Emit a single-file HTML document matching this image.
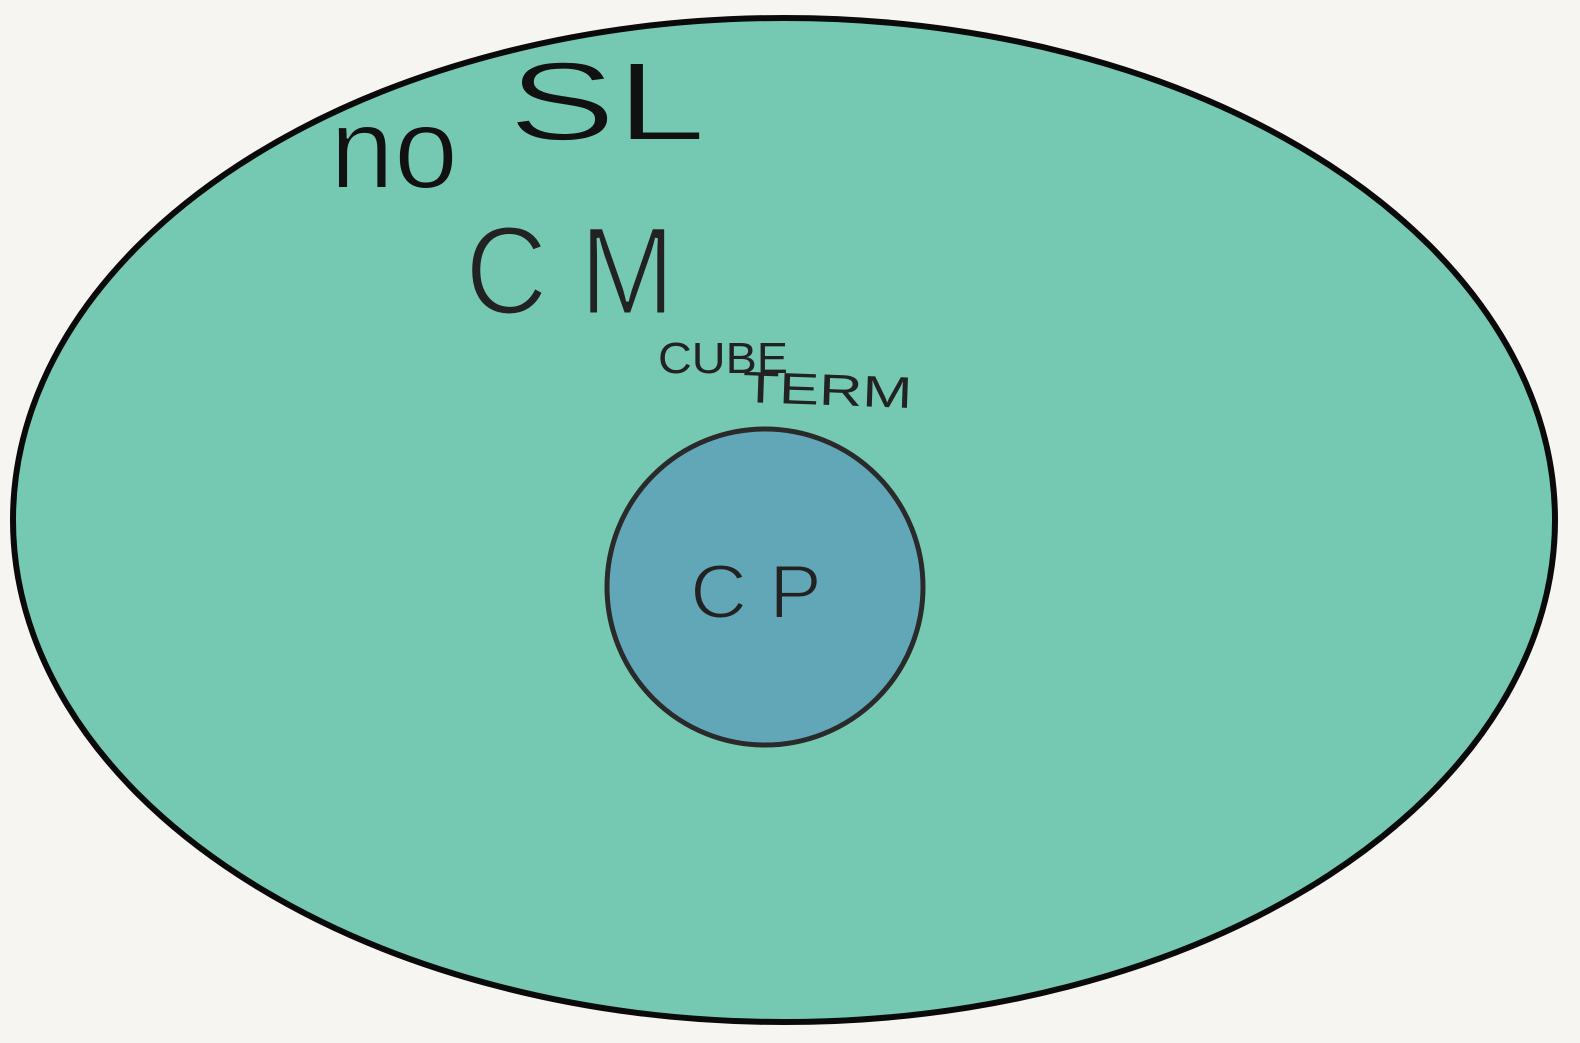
<!DOCTYPE html>
<html><head><meta charset="utf-8"><style>
html,body{margin:0;padding:0;background:#f6f5f1;}
svg{display:block}
text{font-family:"Liberation Sans",sans-serif;}
</style></head><body>
<svg width="1580" height="1043" viewBox="0 0 1580 1043">
<rect width="1580" height="1043" fill="#f6f5f1"/>
<ellipse cx="784" cy="520" rx="771" ry="502" fill="#75c9b2" stroke="#0a0a0a" stroke-width="6"/>
<circle cx="765" cy="587" r="158" fill="#62a7b8" stroke="#2a2a2a" stroke-width="5"/>
<text x="330" y="188" font-size="115" fill="#111" stroke="#75c9b2" stroke-width="2" textLength="128" lengthAdjust="spacingAndGlyphs">no</text>
<text x="508" y="140" font-size="112" fill="#111" stroke="#75c9b2" stroke-width="2" textLength="198" lengthAdjust="spacingAndGlyphs">SL</text>
<text x="465" y="314" font-size="125" fill="#222" stroke="#75c9b2" stroke-width="3" textLength="210" lengthAdjust="spacingAndGlyphs">C M</text>
<text x="658" y="373" font-size="44" fill="#222" textLength="130" lengthAdjust="spacingAndGlyphs">CUBE</text>
<text x="742" y="402" font-size="44" fill="#222" textLength="170" lengthAdjust="spacingAndGlyphs" transform="rotate(2 742 402)">TERM</text>
<text x="690" y="618" font-size="76" fill="#222" stroke="#62a7b8" stroke-width="2" textLength="132" lengthAdjust="spacingAndGlyphs">C P</text>
</svg>
</body></html>
